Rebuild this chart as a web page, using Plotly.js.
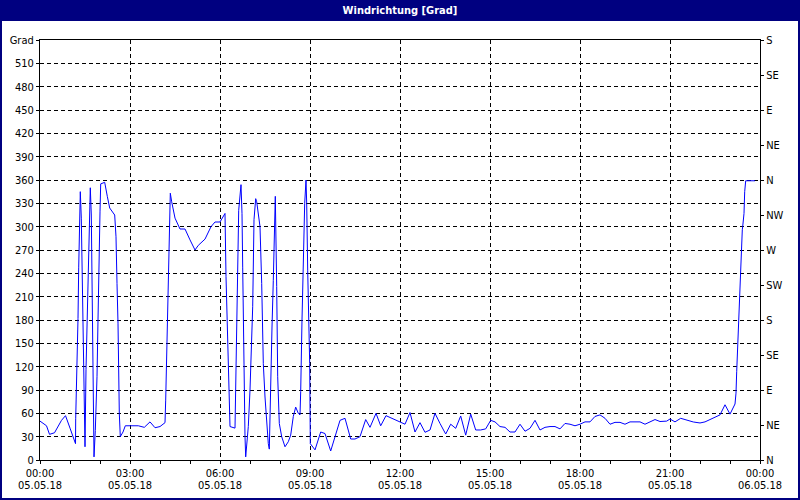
<!DOCTYPE html>
<html>
<head>
<meta charset="utf-8">
<script src="https://cdn.plot.ly/plotly-3.0.1.min.js"></script>
<style>html,body{margin:0;padding:0;background:#fff;}#chart{width:800px;height:500px;}</style>
</head>
<body>
<div id="chart"></div>
<script>
// Time of each reading in minutes since 05.05.18 00:00
const minutes = [
  0, 13, 19, 29, 43, 51, 60, 71, 71.4, 74, 76, 77.4, 79.4, 80.6, 82.6, 84.6, 87.4, 90, 92, 94.6,
  96.6, 98.6, 100.6, 102.6, 105.4, 108, 110.6, 114, 116, 117.4, 120, 121.4, 129.4, 134.6, 139.4, 149.4, 152, 154, 156, 158.6,
  160.6, 166, 170.6, 196.6, 208.6, 220, 230, 240, 250, 251.4, 253.4, 254.6, 256.6, 258.6, 260.6, 263.4, 270, 280, 290, 300,
  310, 316.6, 330, 342, 350, 360, 370, 372, 375.4, 378, 380, 390, 392, 394.6, 397.4, 402, 404, 405.4, 406.6, 408,
  410, 411.4, 413.4, 416.6, 420, 423.4, 425.4, 428, 431.4, 433.4, 436.6, 440, 443.4, 446.6, 450, 453.4, 456.6, 458.6, 461.4, 464,
  466.6, 468.6, 470.6, 473.4, 475.4, 478.6, 483.4, 490, 496.6, 501.4, 506.6, 511.4, 516.6, 520, 521.4, 524, 526.6, 529.4, 532, 533.4,
  535.4, 538, 539.4, 540.6, 550, 561.4, 570, 581.4, 590, 600, 610, 621.4, 630, 640, 651.4, 660, 672, 681.4, 692, 703.4,
  720, 730, 740, 750, 760, 770, 780, 790, 800, 811.4, 821.4, 831.4, 841.4, 851.4, 861.4, 871.4, 881.4, 891.4, 901.4, 910,
  920, 930, 940, 950, 960, 970, 980, 990, 1000, 1010, 1020, 1030, 1040, 1050, 1060, 1070, 1080, 1090, 1100, 1110,
  1120, 1130, 1140, 1150, 1160, 1170, 1180, 1190, 1200, 1210, 1220, 1230, 1240, 1253.4, 1260, 1270, 1281.4, 1293.4, 1306.6, 1320,
  1330, 1340, 1350, 1360, 1370, 1380, 1390, 1392, 1393.4, 1395.4, 1397.4, 1398.6, 1400.6, 1402.6, 1404.6, 1405.4, 1408, 1409.4, 1411.4, 1430
];
// Wind direction in degrees
const degrees = [
  50, 44, 33, 35, 51, 57, 41, 21, 53, 117, 182, 247, 311, 345, 311, 244, 116, 17, 116, 182,
  248, 317, 350, 315, 107, 4, 38, 107, 180, 248, 319, 355, 357, 339, 324, 315, 287, 227, 176, 60,
  30, 36, 44, 44, 42, 49, 41.5, 43, 48, 77, 137, 197, 253, 313, 343, 332, 311, 297, 297, 283,
  270, 276, 284, 300, 306, 306, 317, 236, 158, 107, 43, 41, 120, 193, 321, 354, 317, 248, 178, 109,
  30, 4, 22, 43, 90, 146, 197, 309, 336, 332, 317, 300, 227, 124, 81, 43, 21, 14, 116, 171,
  231, 287, 339, 223, 107, 47, 30, 17, 23.5, 32, 56, 68, 60, 58, 88, 180, 257, 330, 360, 330,
  244, 167, 124, 21, 13, 36, 34, 11.6, 30, 51, 53.6, 27, 27, 30, 52, 42, 60, 44, 57, 53.6,
  49, 46, 61, 36, 48, 35.6, 38.6, 60, 47, 33.4, 46, 40.7, 56.6, 32, 59, 38.6, 38.6, 40, 51, 49,
  43, 42, 36, 36, 46, 37, 40.7, 51, 38.6, 42, 43, 43, 40, 47, 46, 44, 46, 49, 49, 56,
  58, 53.6, 46, 48.4, 48.4, 46, 49, 49, 49, 46, 49, 52, 49.5, 50, 52.7, 49, 53.6, 51, 48.9, 47.6,
  49, 52, 55, 58, 71, 59, 72, 86, 113.5, 150, 180, 201, 231, 266, 296, 300, 317, 345, 359, 359
];
const xTickHours = [0, 3, 6, 9, 12, 15, 18, 21, 24];
const xTimeLabels = ['00:00', '03:00', '06:00', '09:00', '12:00', '15:00', '18:00', '21:00', '00:00'];
const xDateLabels = ['05.05.18', '05.05.18', '05.05.18', '05.05.18', '05.05.18', '05.05.18', '05.05.18', '05.05.18', '06.05.18'];
const yLeftVals = [0, 30, 60, 90, 120, 150, 180, 210, 240, 270, 300, 330, 360, 390, 420, 450, 480, 510, 540];
const yLeftLabels = ['0', '30', '60', '90', '120', '150', '180', '210', '240', '270', '300', '330', '360', '390', '420', '450', '480', '510', 'Grad'];
const yRightVals = [0, 45, 90, 135, 180, 225, 270, 315, 360, 405, 450, 495, 540];
const yRightLabels = ['N', 'NE', 'E', 'SE', 'S', 'SW', 'W', 'NW', 'N', 'NE', 'E', 'SE', 'S'];
const titleText = 'Windrichtung [Grad]';

const hours = minutes.map(m => m / 60);
const FONT = 'Liberation Sans Narrow, DejaVu Sans Condensed, DejaVu Sans, sans-serif';
const tickFont = {family: FONT, size: 11, color: '#000'};
const NAVY = '#000080';
const W = 800, H = 500, L = 40, R = 40, T = 40, B = 40;
const pw = W - L - R, ph = H - T - B;
const px = p => (p - L) / pw;
const py = p => (H - B - p) / ph;

const trace = {
  x: hours, y: degrees, type: 'scatter', mode: 'lines',
  line: {color: '#0000ff', width: 1}, hoverinfo: 'skip', showlegend: false
};
const dummy = {x: [0], y: [0], xaxis: 'x2', yaxis: 'y2', type: 'scatter', mode: 'markers',
  marker: {opacity: 0}, hoverinfo: 'skip', showlegend: false};

const layout = {
  width: W, height: H,
  margin: {l: L, r: R, t: T, b: B, pad: 0},
  paper_bgcolor: '#ffffff', plot_bgcolor: '#ffffff',
  showlegend: false,
  title: {text: titleText, font: {family: FONT, size: 11, color: '#ffffff', weight: 'bold'},
    x: 0.5, xanchor: 'center', xref: 'paper', y: 1 - 10.5 / H, yref: 'container', yanchor: 'middle'},
  xaxis: {
    range: [0, 24], tickmode: 'array', tickvals: xTickHours, ticktext: xTimeLabels,
    ticks: 'outside', ticklen: 3, tickcolor: '#000', tickwidth: 1, tickfont: tickFont,
    showgrid: true, gridcolor: '#000', gridwidth: 1, griddash: '4px,3px',
    showline: true, linecolor: '#000', linewidth: 1, mirror: true, zeroline: false,
    minor: {tickmode: 'linear', tick0: 0, dtick: 1, ticks: 'outside', ticklen: 3, tickcolor: '#000', showgrid: false},
    fixedrange: true
  },
  xaxis2: {
    overlaying: 'x', anchor: 'y', side: 'bottom', range: [0, 24], tickmode: 'array',
    tickvals: xTickHours, ticktext: xDateLabels, ticks: '', tickfont: tickFont,
    ticklabelstandoff: 17, showgrid: false, showline: false, zeroline: false, fixedrange: true
  },
  yaxis: {
    range: [0, 540], tickmode: 'array', tickvals: yLeftVals, ticktext: yLeftLabels,
    ticks: 'outside', ticklen: 3, tickcolor: '#000', tickfont: tickFont,
    showgrid: true, gridcolor: '#000', gridwidth: 1, griddash: '4px,3px',
    showline: true, linecolor: '#000', linewidth: 1, mirror: true, zeroline: false, fixedrange: true
  },
  yaxis2: {
    overlaying: 'y', side: 'right', anchor: 'x', range: [0, 540], tickmode: 'array',
    tickvals: yRightVals, ticktext: yRightLabels, ticks: 'outside', ticklen: 3, tickcolor: '#000',
    tickfont: tickFont, showgrid: false, showline: false, zeroline: false, fixedrange: true
  },
  shapes: [
    {type: 'rect', xref: 'paper', yref: 'paper', x0: px(0), x1: px(W), y0: py(21), y1: py(0),
     fillcolor: NAVY, line: {width: 0}, layer: 'below'},
    {type: 'rect', xref: 'paper', yref: 'paper', x0: px(1), x1: px(W - 1), y0: py(H - 1), y1: py(1),
     fillcolor: 'rgba(0,0,0,0)', line: {color: NAVY, width: 2}, layer: 'above'}
  ]
};

Plotly.newPlot('chart', [trace, dummy], layout, {staticPlot: true, displayModeBar: false});
</script>
</body>
</html>
